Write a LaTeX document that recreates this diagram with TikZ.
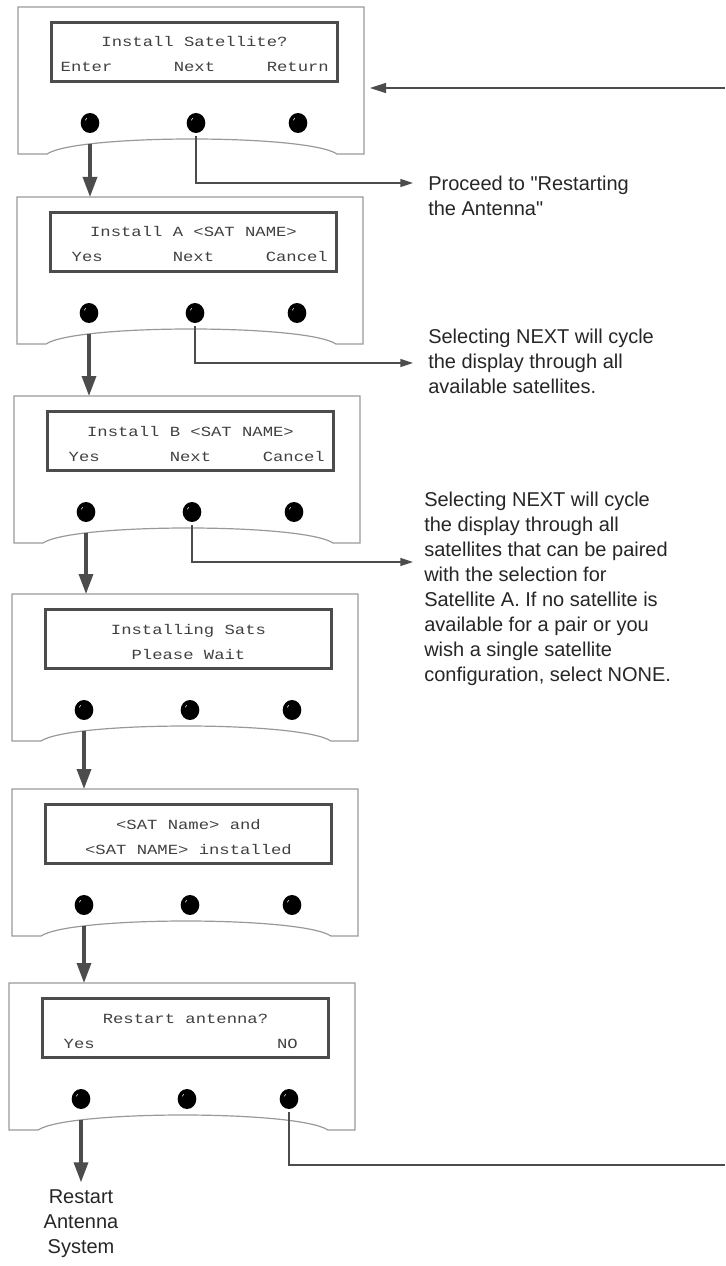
\documentclass[tikz,border=0pt]{standalone}
\usepackage{fontspec}
\setmainfont{Liberation Sans}[Ligatures=TeXOff]
\newfontfamily\lcdfont[FakeStretch=1.23]{Liberation Mono}
\usetikzlibrary{arrows.meta,shapes.geometric,calc}

\begin{document}
\begin{tikzpicture}[
  x=0.75pt, y=-0.75pt,
  frame/.style={draw=black!40, line width=0.9pt},
  lcd/.style={draw=black!70, line width=2.3pt, rectangle,
    minimum width=214.5pt, minimum height=44.25pt},
  button/.style={ellipse, fill=black, minimum width=14pt, minimum height=15pt, inner sep=0pt,
    path picture={\draw[white, line width=0.4pt]
      ([xshift=-3.5pt,yshift=2pt]path picture bounding box.center) -- ++(1pt,1.6pt);}},
  lcdtext/.style={font=\lcdfont\fontsize{10.5pt}{12pt}\selectfont, text=black!75, inner sep=0pt, anchor=base},
  note/.style={font=\fontsize{15pt}{18.75pt}\selectfont, text=black!85, align=left,
    anchor=north west, inner sep=0pt},
  bigarrow/.style={draw=black!70, line width=2.5pt, shorten <=8pt,
    -{Triangle[length=15pt,width=10.5pt]}},
  thinarrow/.style={draw=black!70, line width=1.1pt, shorten <=2pt,
    -{Triangle[length=9.5pt,width=6pt]}},
  retarrow/.style={draw=black!70, line width=1.1pt, shorten >=4.5pt,
    -{Triangle[length=12pt,width=7.5pt]}},
  thinline/.style={draw=black!70, line width=1.1pt, shorten <=2pt}
]
\useasboundingbox (0,0) rectangle (725,1266);

% the six display panels
\foreach \p/\px/\py in {1/18/7,2/17/197,3/14/396,4/12/594,5/12/789,6/9/983}{
  \begin{scope}[shift={(\px,\py)}]
    \draw[frame] (0,0) -- (346,0) -- (346,147) -- (319,147)
      .. controls (289,127) and (59,127) .. (29,147) -- (0,147) -- cycle;
    \coordinate (top\p) at (0,0);
    \coordinate (corner\p) at (346,147);
    \node[lcd] (lcd\p) at (176.5,45) {};
    \node[button] (btnL\p) at (72,116) {};
    \node[button] (btnM\p) at (178,116) {};
    \node[button] (btnR\p) at (280,116) {};
  \end{scope}
}

% display texts
\node[lcdtext] (txt1) at ($(lcd1.center)+(0,-5)$) {Install Satellite?};
\node[lcdtext, anchor=base west] (txt1l) at ($(lcd1.west)+(10.5,20)$) {Enter};
\node[lcdtext] (txt1m) at ($(lcd1.center)+(0,20)$) {Next};
\node[lcdtext, anchor=base east] (txt1r) at ($(lcd1.east)+(-10,20)$) {Return};

\node[lcdtext] (txt2) at ($(lcd2.center)+(0,-5)$) {Install A <SAT NAME>};
\node[lcdtext, anchor=base west] (txt2l) at ($(lcd2.west)+(22.5,20)$) {Yes};
\node[lcdtext] (txt2m) at ($(lcd2.center)+(0,20)$) {Next};
\node[lcdtext, anchor=base east] (txt2r) at ($(lcd2.east)+(-10,20)$) {Cancel};

\node[lcdtext] (txt3) at ($(lcd3.center)+(0,-5)$) {Install B <SAT NAME>};
\node[lcdtext, anchor=base west] (txt3l) at ($(lcd3.west)+(22.5,20)$) {Yes};
\node[lcdtext] (txt3m) at ($(lcd3.center)+(0,20)$) {Next};
\node[lcdtext, anchor=base east] (txt3r) at ($(lcd3.east)+(-10,20)$) {Cancel};

\node[lcdtext] (txt4) at ($(lcd4.center)+(0,-5)$) {Installing Sats};
\node[lcdtext] (txt4m) at ($(lcd4.center)+(0,20)$) {Please Wait};

\node[lcdtext] (txt5) at ($(lcd5.center)+(0,-5)$) {<SAT Name> and};
\node[lcdtext] (txt5m) at ($(lcd5.center)+(0,20)$) {<SAT NAME> installed};

\node[lcdtext] (txt6) at ($(lcd6.center)+(0,-5)$) {Restart antenna?};
\node[lcdtext, anchor=base west] (txt6l) at ($(lcd6.west)+(22.5,20)$) {Yes};
\node[lcdtext, anchor=base east] (txt6r) at ($(lcd6.east)+(-32,20)$) {NO};

% notes
\node[note] (note1) at (428,175.5) {Proceed to "Restarting\\the Antenna"};
\node[note] (note2) at (428,329) {Selecting NEXT will cycle\\the display through all\\available satellites.};
\node[note] (note3) at (424,492) {Selecting NEXT will cycle\\the display through all\\satellites that can be paired\\with the selection for\\Satellite A. If no satellite is\\available for a pair or you\\wish a single satellite\\configuration, select NONE.};
\node[note, anchor=north, align=center] (restart) at (81,1189) {Restart\\Antenna\\System};

% connectors
\foreach \i/\j in {1/2,2/3,3/4,4/5,5/6}
  \draw[bigarrow] (btnL\i) -- (btnL\i |- top\j);
\draw[bigarrow, shorten >=5pt] (btnL6) -- (btnL6 |- restart.north);

\coordinate (a1) at (413,183);
\coordinate (a2) at (413,363);
\coordinate (a3) at (413,562);
\draw[thinarrow] (btnM1.south) |- (a1);
\draw[thinarrow] (btnM2.south) |- (a2);
\draw[thinarrow] (btnM3.south) |- (a3);

\coordinate (ret1) at (725,88);
\coordinate (ret6) at (725,1165);
\draw[retarrow] (ret1) -- (ret1 -| corner1);
\draw[thinline] (btnR6.south) |- (ret6);
\end{tikzpicture}
\end{document}
